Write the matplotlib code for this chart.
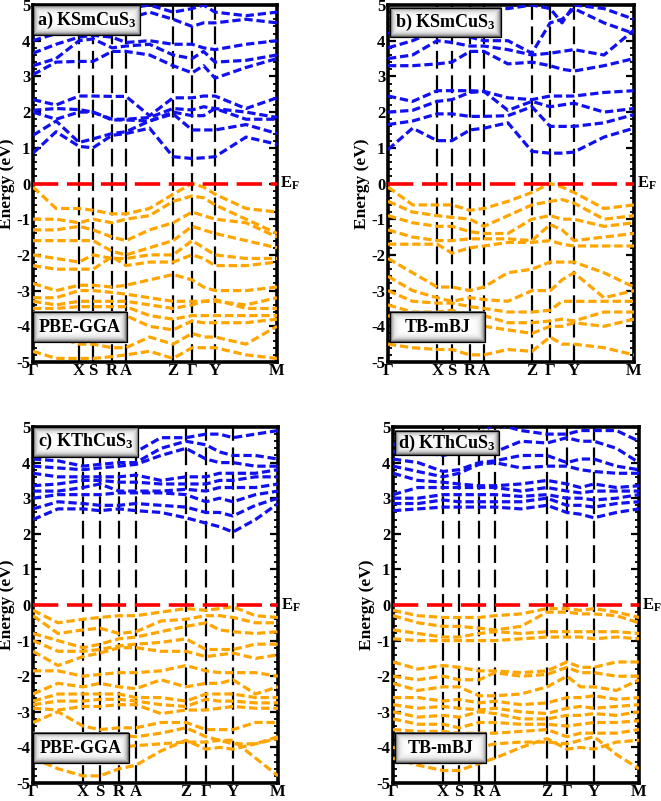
import numpy as np
import matplotlib
matplotlib.use("Agg")
import matplotlib.pyplot as plt
from matplotlib.ticker import MultipleLocator
from matplotlib.patches import Rectangle
import matplotlib.transforms as mtransforms

plt.rcParams['font.family'] = ['Liberation Serif', 'DejaVu Serif']
plt.rcParams['font.weight'] = 'bold'
plt.rcParams['mathtext.fontset'] = 'custom'
plt.rcParams['mathtext.rm'] = 'Liberation Serif:bold'
plt.rcParams['mathtext.bf'] = 'Liberation Serif:bold'
plt.rcParams['mathtext.it'] = 'Liberation Serif:bold'
plt.rcParams['mathtext.default'] = 'bf'

# ---------------- data ----------------
kpath_labels = ['Γ', 'X', 'S', 'R', 'A', 'Z', 'Γ', 'Y', 'M']
# fractional positions of the high-symmetry points along the path
kpos_a = [0.0, 0.189, 0.246, 0.324, 0.381, 0.574, 0.652, 0.746, 1.0]
kpos_b = [0.0, 0.200, 0.260, 0.333, 0.390, 0.585, 0.659, 0.756, 1.0]
kpos_c = [0.0, 0.204, 0.273, 0.351, 0.420, 0.624, 0.706, 0.816, 1.0]
kpos_d = [0.0, 0.203, 0.268, 0.350, 0.415, 0.626, 0.707, 0.817, 1.0]

# band energies (eV) sampled at: G, G-X, X, S, R, A, A-Z, Z, G, G-Y, Y, Y-M, M
a_cb = [
    [0.85, 1.45, 1.04, 1.0, 1.35, 1.4, 1.55, 0.75, 0.7, 0.72, 0.75, 1.3, 1.1],
    [1.35, 1.75, 1.15, 1.25, 1.4, 1.45, 1.75, 1.95, 1.5, 1.5, 1.5, 1.65, 1.4],
    [2.0, 1.8, 2.0, 2.0, 1.78, 1.78, 1.75, 2.0, 1.9, 1.9, 2.1, 1.8, 1.8],
    [2.05, 2.1, 2.07, 2.0, 1.8, 1.8, 1.85, 2.1, 2.06, 2.15, 2.1, 2.0, 1.85],
    [2.35, 2.2, 2.45, 2.45, 2.44, 2.44, 1.9, 2.4, 2.4, 2.45, 2.45, 2.1, 2.4],
    [3.05, 3.4, 3.42, 3.42, 3.7, 3.7, 3.6, 3.3, 3.1, 3.3, 2.95, 3.25, 3.5],
    [3.3, 3.5, 4.0, 4.05, 3.8, 3.85, 3.9, 3.6, 3.5, 3.7, 3.4, 3.45, 3.6],
    [3.65, 3.9, 4.1, 4.15, 4.1, 3.95, 4.0, 3.9, 3.9, 3.8, 3.75, 3.9, 4.0],
    [4.0, 4.2, 4.4, 4.4, 4.5, 4.6, 4.8, 4.6, 4.4, 4.5, 4.5, 4.6, 4.5],
    [4.6, 4.6, 4.8, 4.8, 4.9, 4.9, 5.0, 4.8, 4.9, 5.0, 4.8, 4.7, 4.8],
]
a_vb = [
    [-0.1, -0.7, -0.7, -0.75, -0.85, -0.85, -0.7, -0.3, 0.0, -0.1, -0.3, -0.7, -0.8],
    [-1.0, -1.0, -1.1, -1.0, -1.1, -1.0, -0.9, -0.5, -0.35, -0.4, -0.6, -1.0, -1.4],
    [-1.3, -1.3, -1.2, -1.3, -1.5, -1.6, -1.3, -1.1, -0.8, -0.9, -1.0, -1.1, -1.5],
    [-1.6, -1.6, -1.6, -1.6, -1.9, -2.0, -1.8, -1.6, -1.2, -1.3, -1.4, -1.6, -1.8],
    [-2.0, -2.1, -2.2, -2.0, -2.1, -2.1, -2.0, -2.0, -1.6, -1.8, -2.0, -2.1, -2.1],
    [-2.3, -2.4, -2.4, -2.4, -2.05, -2.3, -2.2, -2.2, -2.0, -2.1, -2.3, -2.3, -2.2],
    [-2.8, -3.0, -2.85, -2.85, -2.9, -2.85, -2.7, -2.55, -2.7, -2.9, -3.0, -3.0, -2.9],
    [-3.2, -3.2, -3.0, -3.0, -3.05, -3.1, -3.2, -3.3, -3.3, -3.3, -3.3, -3.4, -3.2],
    [-3.3, -3.4, -3.3, -3.3, -3.3, -3.3, -3.4, -3.5, -3.4, -3.3, -3.25, -3.5, -3.5],
    [-3.5, -3.5, -3.45, -3.45, -3.45, -3.45, -3.7, -3.8, -3.7, -3.7, -3.7, -3.7, -3.7],
    [-3.6, -3.8, -3.7, -3.7, -3.7, -3.7, -4.0, -4.1, -3.85, -3.9, -3.9, -3.9, -3.8],
    [-4.0, -4.3, -4.5, -4.5, -4.6, -4.6, -4.3, -4.5, -4.2, -4.3, -4.3, -4.5, -4.0],
    [-4.7, -4.9, -4.9, -4.9, -4.85, -4.8, -4.7, -4.9, -4.6, -4.6, -4.6, -4.8, -4.9],
]
b_cb = [
    [0.95, 1.55, 1.2, 1.2, 1.5, 1.55, 1.7, 0.9, 0.85, 0.85, 0.88, 1.3, 1.55],
    [1.65, 1.75, 1.95, 1.95, 1.88, 1.88, 1.9, 2.15, 1.6, 1.6, 1.6, 1.7, 1.93],
    [2.0, 2.05, 2.3, 2.35, 2.55, 2.58, 2.05, 2.3, 2.15, 2.2, 2.25, 2.0, 2.1],
    [2.45, 2.3, 2.6, 2.6, 2.6, 2.58, 2.4, 2.35, 2.45, 2.45, 2.45, 2.55, 2.6],
    [3.3, 3.3, 3.35, 3.4, 3.7, 3.7, 3.35, 3.4, 3.3, 3.2, 3.15, 3.3, 3.5],
    [3.5, 3.6, 4.0, 3.95, 3.85, 3.85, 3.75, 3.6, 3.65, 3.7, 3.75, 3.6, 4.3],
    [3.8, 4.0, 4.3, 4.2, 4.1, 4.0, 4.0, 3.65, 4.5, 4.6, 4.9, 4.5, 4.2],
    [4.2, 4.5, 4.7, 4.7, 4.8, 4.9, 4.9, 5.0, 4.9, 4.5, 5.0, 4.9, 4.6],
]
b_vb = [
    [-0.1, -0.6, -0.6, -0.6, -0.75, -0.7, -0.5, -0.25, 0.0, -0.1, -0.25, -0.7, -0.6],
    [-0.5, -0.8, -0.9, -0.95, -1.0, -1.2, -0.9, -0.6, -0.5, -0.45, -0.55, -1.0, -0.9],
    [-0.9, -1.1, -1.2, -1.2, -1.35, -1.4, -1.4, -1.0, -0.9, -1.0, -1.0, -1.2, -1.1],
    [-1.3, -1.5, -1.6, -1.6, -1.55, -1.55, -1.55, -1.6, -1.15, -1.3, -1.6, -1.5, -1.4],
    [-1.7, -1.7, -1.7, -1.95, -1.8, -1.75, -1.65, -1.65, -1.6, -1.7, -1.75, -1.75, -1.75],
    [-2.1, -2.5, -2.9, -2.9, -3.0, -2.9, -2.5, -2.4, -2.2, -2.2, -2.2, -2.5, -2.9],
    [-2.6, -3.0, -3.2, -3.3, -3.2, -3.25, -3.3, -3.0, -3.0, -2.7, -2.5, -3.2, -3.0],
    [-3.0, -3.3, -3.35, -3.35, -3.45, -3.5, -3.6, -3.6, -3.55, -3.3, -3.3, -3.3, -3.3],
    [-3.4, -3.6, -3.6, -3.55, -3.7, -3.7, -3.9, -3.9, -3.85, -3.8, -3.85, -3.6, -3.6],
    [-3.7, -3.9, -4.0, -4.0, -4.0, -4.0, -4.1, -4.2, -4.0, -4.0, -3.9, -4.0, -3.8],
    [-4.5, -4.6, -4.65, -4.65, -4.8, -4.8, -4.65, -4.7, -4.3, -4.5, -4.5, -4.6, -4.8],
]
c_cb = [
    [2.4, 2.7, 2.7, 2.65, 2.7, 2.65, 2.6, 2.45, 2.3, 2.2, 2.05, 2.4, 2.85],
    [2.7, 2.9, 2.85, 2.8, 2.8, 2.85, 2.8, 2.75, 2.6, 2.6, 2.5, 2.8, 3.0],
    [3.0, 3.1, 3.1, 3.1, 3.15, 3.15, 3.15, 3.1, 2.9, 3.0, 2.9, 3.1, 3.2],
    [3.2, 3.2, 3.3, 3.4, 3.2, 3.2, 3.2, 3.25, 3.2, 3.3, 3.3, 3.3, 3.4],
    [3.35, 3.4, 3.5, 3.5, 3.45, 3.45, 3.4, 3.4, 3.4, 3.5, 3.5, 3.6, 3.6],
    [3.7, 3.6, 3.6, 3.6, 3.6, 3.65, 3.5, 3.6, 3.6, 3.7, 3.7, 3.7, 3.8],
    [3.9, 3.85, 3.8, 3.85, 3.9, 3.95, 4.2, 4.4, 4.1, 4.0, 4.0, 3.9, 3.9],
    [4.1, 4.05, 3.9, 3.95, 4.0, 4.0, 4.4, 4.6, 4.5, 4.3, 4.2, 4.2, 4.1],
    [4.2, 4.3, 4.4, 4.4, 4.3, 4.3, 4.7, 4.7, 4.8, 4.8, 4.7, 4.8, 4.9],
]
c_vb = [
    [-0.15, -0.5, -0.4, -0.35, -0.3, -0.3, -0.2, -0.1, -0.15, -0.1, -0.05, -0.3, -0.35],
    [-0.3, -0.8, -0.7, -0.65, -0.8, -0.75, -0.45, -0.4, -0.3, -0.3, -0.35, -0.5, -0.5],
    [-0.8, -1.0, -1.2, -1.1, -0.95, -0.9, -0.75, -0.6, -0.5, -0.7, -0.75, -0.8, -0.75],
    [-1.0, -1.3, -1.3, -1.25, -1.15, -1.1, -1.05, -0.95, -1.25, -1.25, -1.25, -1.1, -1.1],
    [-1.3, -1.7, -1.45, -1.35, -1.2, -1.2, -1.3, -1.3, -1.45, -1.4, -1.35, -1.5, -1.4],
    [-1.85, -1.85, -2.0, -1.95, -1.9, -1.9, -1.85, -1.7, -1.85, -1.9, -1.9, -1.9, -2.0],
    [-2.5, -2.2, -2.3, -2.2, -2.3, -2.35, -2.1, -2.3, -2.2, -2.2, -2.1, -2.5, -2.3],
    [-2.7, -2.5, -2.5, -2.5, -2.5, -2.6, -2.6, -2.7, -2.5, -2.5, -2.5, -2.6, -2.6],
    [-2.8, -2.7, -2.7, -2.65, -2.65, -2.7, -2.8, -2.85, -2.65, -2.7, -2.7, -2.75, -2.75],
    [-2.9, -2.95, -2.85, -2.85, -2.8, -2.8, -3.05, -2.95, -2.95, -2.9, -2.85, -2.9, -2.9],
    [-3.3, -3.0, -3.4, -3.5, -3.45, -3.45, -3.3, -3.3, -3.5, -3.5, -3.5, -3.3, -3.3],
    [-3.6, -3.7, -3.8, -3.8, -3.65, -3.7, -3.6, -3.45, -3.7, -3.8, -3.9, -3.9, -3.7],
    [-4.3, -4.6, -4.8, -4.8, -4.6, -4.5, -4.1, -3.8, -4.05, -4.0, -4.05, -3.9, -3.75],
    [-3.9, -4.1, -4.2, -4.2, -4.0, -3.95, -3.9, -3.85, -3.85, -3.8, -3.8, -4.3, -4.8],
]
d_cb = [
    [2.65, 2.7, 2.75, 2.75, 2.75, 2.75, 2.7, 2.8, 2.6, 2.55, 2.45, 2.6, 2.7],
    [2.85, 2.85, 2.95, 2.9, 2.9, 2.9, 2.9, 3.0, 2.8, 2.8, 2.75, 2.85, 2.9],
    [3.0, 3.0, 3.1, 3.1, 3.1, 3.1, 3.05, 3.1, 3.0, 3.0, 2.95, 3.0, 3.1],
    [3.1, 3.3, 3.3, 3.3, 3.3, 3.3, 3.2, 3.3, 3.2, 3.15, 3.2, 3.2, 3.2],
    [3.7, 3.5, 3.45, 3.4, 3.35, 3.35, 3.4, 3.5, 3.4, 3.3, 3.4, 3.3, 3.35],
    [3.9, 3.75, 3.6, 3.7, 3.95, 4.0, 3.85, 3.9, 3.9, 3.8, 3.75, 3.7, 3.7],
    [4.1, 4.0, 3.75, 3.8, 4.0, 4.05, 4.2, 4.2, 4.0, 4.1, 4.1, 3.9, 3.8],
    [4.3, 4.3, 4.2, 4.3, 4.3, 4.3, 4.6, 4.55, 4.7, 4.6, 4.6, 4.4, 4.0],
    [4.5, 4.6, 4.6, 4.7, 4.8, 5.1, 4.9, 4.8, 4.8, 4.9, 4.9, 4.9, 4.6],
]
d_vb = [
    [-0.15, -0.3, -0.35, -0.35, -0.35, -0.3, -0.25, -0.1, -0.1, -0.15, -0.1, -0.2, -0.35],
    [-0.3, -0.5, -0.6, -0.6, -0.65, -0.7, -0.6, -0.2, -0.2, -0.25, -0.25, -0.3, -0.5],
    [-0.7, -0.8, -0.9, -0.9, -0.8, -0.75, -0.8, -0.75, -0.75, -0.75, -0.75, -0.75, -0.8],
    [-0.95, -1.0, -1.0, -1.0, -1.0, -1.0, -0.95, -0.9, -0.9, -0.9, -0.95, -0.9, -0.95],
    [-1.6, -1.8, -1.7, -1.75, -1.85, -1.85, -1.9, -1.85, -1.6, -1.75, -1.75, -1.6, -1.6],
    [-2.0, -2.1, -2.0, -2.1, -2.1, -1.9, -2.0, -1.95, -1.75, -1.9, -1.9, -2.0, -2.0],
    [-2.2, -2.4, -2.3, -2.3, -2.55, -2.55, -2.5, -2.3, -2.0, -2.3, -2.3, -2.4, -2.1],
    [-2.6, -2.6, -2.7, -2.65, -2.75, -2.7, -2.8, -2.75, -2.6, -2.6, -2.55, -2.65, -2.6],
    [-2.8, -2.9, -2.85, -2.9, -2.95, -2.9, -3.0, -3.05, -2.9, -2.85, -2.9, -2.85, -2.8],
    [-3.0, -3.15, -3.1, -3.15, -3.0, -3.05, -3.2, -3.2, -3.1, -3.1, -3.05, -3.1, -3.0],
    [-3.2, -3.35, -3.35, -3.45, -3.3, -3.3, -3.35, -3.35, -3.4, -3.35, -3.3, -3.3, -3.25],
    [-3.5, -3.55, -3.55, -3.6, -3.6, -3.6, -3.55, -3.5, -3.7, -3.6, -3.6, -3.6, -3.5],
    [-4.3, -4.5, -4.65, -4.65, -4.45, -4.3, -4.0, -3.75, -4.05, -4.0, -4.05, -3.85, -3.8],
    [-4.0, -4.1, -4.2, -4.2, -4.0, -3.9, -3.85, -3.85, -3.9, -3.8, -3.7, -4.2, -4.6],
]

panel_titles = ['a) KSmCuS$_3$', 'b) KSmCuS$_3$', 'c) KThCuS$_3$', 'd) KThCuS$_3$']
method_labels = ['PBE-GGA', 'TB-mBJ', 'PBE-GGA', 'TB-mBJ']

# ---------------- figure ----------------
W, H = 661, 801
fig = plt.figure(figsize=(W / 100, H / 100), dpi=100)

rects_px = [(33, 5, 277, 362), (388, 5, 634, 362), (33, 427, 278, 783), (393, 427, 639, 783)]
panels = [(kpos_a, a_cb, a_vb), (kpos_b, b_cb, b_vb), (kpos_c, c_cb, c_vb), (kpos_d, d_cb, d_vb)]
title_boxes = [(0.0, 0.44, 4.16, 5.0), (0.01, 0.46, 4.1, 4.92), (0.0, 0.43, 4.17, 5.0), (0.01, 0.43, 4.2, 4.9)]
method_boxes = [(0.0, 0.385, -4.45, -3.6), (0.01, 0.395, -4.45, -3.6), (0.0, 0.39, -4.45, -3.6), (0.01, 0.38, -4.45, -3.6)]

BLUE = '#1010f0'
ORANGE = '#ffa500'


def sample_x(kp):
    G, X, S, R, A, Z, G2, Y, M = kp
    return [G, (G + X) / 2, X, S, R, A, (A + Z) / 2, Z, G2, (G2 + Y) / 2, Y, (Y + M) / 2, M]


def shaded_box(ax, x0, x1, e0, e1, text, fs, axw, axh):
    # box in axes-x / data-y coordinates with a soft grey bevel
    y0 = (e0 + 5) / 10
    y1 = (e1 + 5) / 10
    wpx = max(int((x1 - x0) * axw), 4)
    hpx = max(int((y1 - y0) * axh), 4)
    jj, ii = np.meshgrid(np.arange(wpx), np.arange(hpx))
    d = np.minimum(np.minimum(ii, hpx - 1 - ii), np.minimum(jj, wpx - 1 - jj)).astype(float)
    img = 1.0 - 0.6 * np.exp(-d / 2.6)
    ax.imshow(img, extent=(x0, x1, y0, y1), transform=ax.transAxes, cmap='gray',
              vmin=0, vmax=1, aspect='auto', zorder=6, interpolation='bilinear')
    ax.add_patch(Rectangle((x0, y0), x1 - x0, y1 - y0, transform=ax.transAxes,
                           fill=False, ec='black', lw=0.9, zorder=7))
    ax.text((x0 + x1) / 2, (y0 + y1) / 2, text, transform=ax.transAxes, ha='center',
            va='center', fontsize=fs, fontweight='bold', zorder=8)


for idx, ((l, t, r, b), (kp, cb, vb)) in enumerate(zip(rects_px, panels)):
    ax = fig.add_axes([l / W, 1 - b / H, (r - l) / W, (b - t) / H])
    axw, axh = r - l, b - t
    xs = sample_x(kp)
    for band in cb:
        ax.plot(xs, band, color=BLUE, lw=2.3, ls=(0, (2.6, 1.2)), zorder=3)
    for band in vb:
        ax.plot(xs, band, color=ORANGE, lw=2.3, ls=(0, (2.6, 1.2)), zorder=3)
    for xk in kp[1:-1]:
        ax.axvline(xk, color='black', lw=1.6, ls=(0, (8, 3)), zorder=2)
    ax.axhline(0, color='#ff0000', lw=2.6, ls=(0, (7, 2.4)), zorder=4)

    shaded_box(ax, *title_boxes[idx], panel_titles[idx], 13, axw, axh)
    shaded_box(ax, *method_boxes[idx], method_labels[idx], 13, axw, axh)

    ax.set_xlim(0, 1)
    ax.set_ylim(-5, 5)
    ax.set_xticks(kp)
    ax.set_xticklabels(kpath_labels, fontsize=12, fontweight='bold')
    ax.set_yticks(range(-5, 6))
    ax.set_yticklabels([str(v) for v in range(-5, 6)], fontsize=12, fontweight='bold')
    ax.yaxis.set_minor_locator(MultipleLocator(0.2))
    ax.tick_params(axis='y', which='both', direction='in', left=True, right=True, width=1.6, pad=2)
    ax.tick_params(axis='y', which='major', length=6)
    ax.tick_params(axis='y', which='minor', length=3, width=1.3)
    ax.tick_params(axis='x', which='both', length=0, pad=1)
    for sp in ax.spines.values():
        sp.set_linewidth(2.6)
    ax.set_ylabel('Energy (eV)', fontsize=12.5, fontweight='bold', labelpad=1)

    trans = mtransforms.blended_transform_factory(ax.transAxes, ax.transData)
    ax.text(1.012, 0, 'E$_F$', transform=trans, ha='left', va='center', fontsize=12,
            fontweight='bold', clip_on=False)

fig.savefig('out.png', dpi=100)
